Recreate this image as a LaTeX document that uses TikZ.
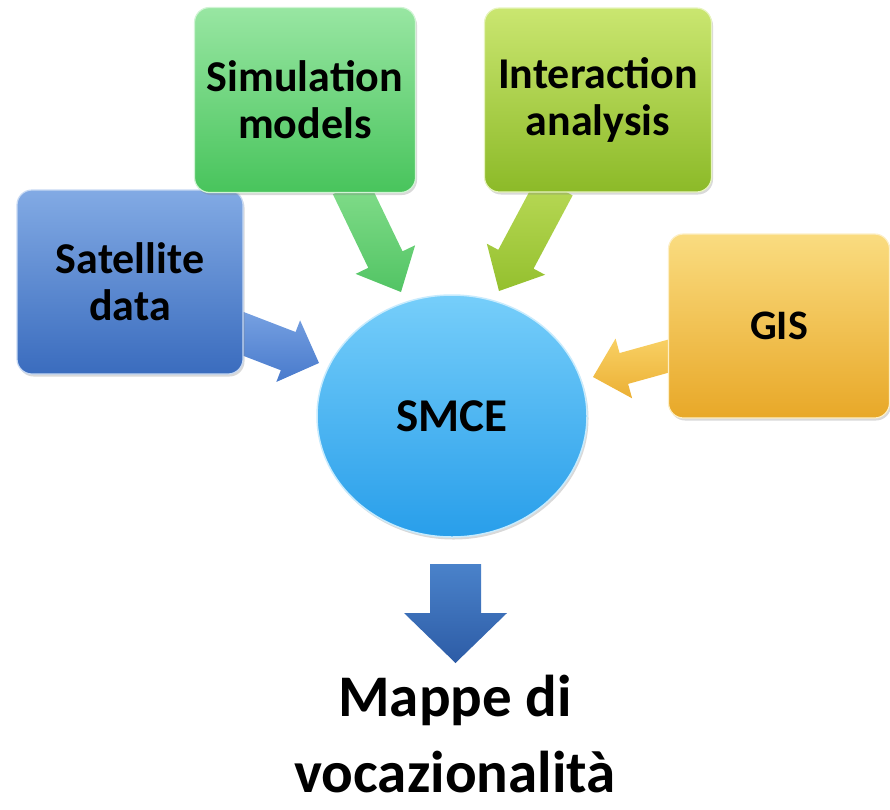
\documentclass[tikz,border=0pt]{standalone}
\usepackage{fontspec}
\setmainfont{Carlito}
\usetikzlibrary{calc,shapes.geometric,shadows,backgrounds}
\definecolor{satTop}{RGB}{130,170,228}
\definecolor{satBot}{RGB}{58,108,190}
\definecolor{simTop}{RGB}{152,230,162}
\definecolor{simBot}{RGB}{72,196,92}
\definecolor{intTop}{RGB}{202,230,112}
\definecolor{intBot}{RGB}{140,186,40}
\definecolor{gisTop}{RGB}{250,220,128}
\definecolor{gisBot}{RGB}{232,168,40}
\definecolor{smTop}{RGB}{118,206,250}
\definecolor{smBot}{RGB}{40,158,234}
\definecolor{dnTop}{RGB}{74,130,202}
\definecolor{dnBot}{RGB}{45,92,166}
\definecolor{saTop}{RGB}{118,160,225}
\definecolor{saBot}{RGB}{72,122,204}
\definecolor{siTop}{RGB}{132,222,140}
\definecolor{siBot}{RGB}{82,196,100}
\definecolor{iaTop}{RGB}{186,218,88}
\definecolor{iaBot}{RGB}{148,192,46}
\definecolor{gaTop}{RGB}{248,208,100}
\definecolor{gaBot}{RGB}{236,176,52}
\newcommand\blockarr[6]{% style, start, tip, shaft half, head half, head length
  \coordinate (bab) at ($(#3)!#6!(#2)$);
  \shade[#1] ($(#2)!#4!90:(#3)$) -- ($(bab)!#4!90:(#3)$) -- ($(bab)!#5!90:(#3)$)
    -- (#3) -- ($(bab)!#5!-90:(#3)$) -- ($(bab)!#4!-90:(#3)$) -- ($(#2)!#4!-90:(#3)$) -- cycle;}
\tikzset{
  boxnode/.style args={#1/#2}{rectangle, rounded corners=15pt, top color=#1, bottom color=#2,
    draw=#1!45!white, line width=1.2pt, align=center, inner sep=0pt,
    font=\fontsize{44}{47}\selectfont\bfseries,
    drop shadow={shadow xshift=1.5pt, shadow yshift=-2.5pt, opacity=0.3}},
  arrowfill/.style args={#1/#2}{top color=#1, bottom color=#2}
}
\begin{document}
\begin{tikzpicture}[x=1pt,y=-1pt]
\useasboundingbox (0,0) rectangle (890,809);
% boxes
\node[boxnode=satTop/satBot, minimum width=226pt, minimum height=184pt] (sat) at (130,282) {Satellite\\data};
\node[boxnode=simTop/simBot, minimum width=221pt, minimum height=185pt] (sim) at (305,100) {Simulation\\models};
\node[boxnode=intTop/intBot, minimum width=227pt, minimum height=184pt] (int) at (598,100) {Interaction\\analysis};
\node[boxnode=gisTop/gisBot, minimum width=221pt, minimum height=184pt, font=\fontsize{42}{47}\selectfont\bfseries] (gis) at (779,326) {GIS};
% centre
\node[ellipse, minimum width=270pt, minimum height=242pt, inner sep=0pt, top color=smTop, bottom color=smBot,
  draw=smTop!40!white, line width=1.5pt, font=\fontsize{47}{54}\selectfont\bfseries,
  drop shadow={shadow xshift=1.5pt, shadow yshift=-2.5pt, opacity=0.3}] (smce) at (452,416) {SMCE};
% output
\node[font=\fontsize{59}{76}\selectfont\bfseries, align=center, inner sep=0pt] (out) at (455,734) {Mappe di\\vocazionalità};
% arrow coordinates
\coordinate (saS) at (236,331);  \coordinate (saT) at (319,363);
\coordinate (siS) at (350,186);  \coordinate (siT) at (401,292);
\coordinate (iaS) at (555,186);  \coordinate (iaT) at (499,291);
\coordinate (gaS) at (676,354);  \coordinate (gaT) at (593,377);
\begin{pgfonlayer}{background}
\blockarr{arrowfill=saTop/saBot}{saS}{saT}{20.5pt}{33pt}{33pt}
\blockarr{arrowfill=siTop/siBot}{siS}{siT}{19pt}{33pt}{36pt}
\blockarr{arrowfill=iaTop/iaBot}{iaS}{iaT}{20pt}{33pt}{36pt}
\blockarr{arrowfill=gaTop/gaBot}{gaS}{gaT}{16pt}{31pt}{32pt}
\end{pgfonlayer}
% down arrow
\coordinate (dTop) at (455.5,564);
\coordinate (dTip) at (455.5,663);
\shade[top color=dnTop, bottom color=dnBot]
  ($(dTop)+(-25.5,0)$) -- ($(dTop)+(25.5,0)$) -- ($(dTop)+(25.5,49)$) -- ($(dTop)+(51.5,49)$)
  -- (dTip) -- ($(dTop)+(-51.5,49)$) -- ($(dTop)+(-25.5,49)$) -- cycle;
\end{tikzpicture}
\end{document}
